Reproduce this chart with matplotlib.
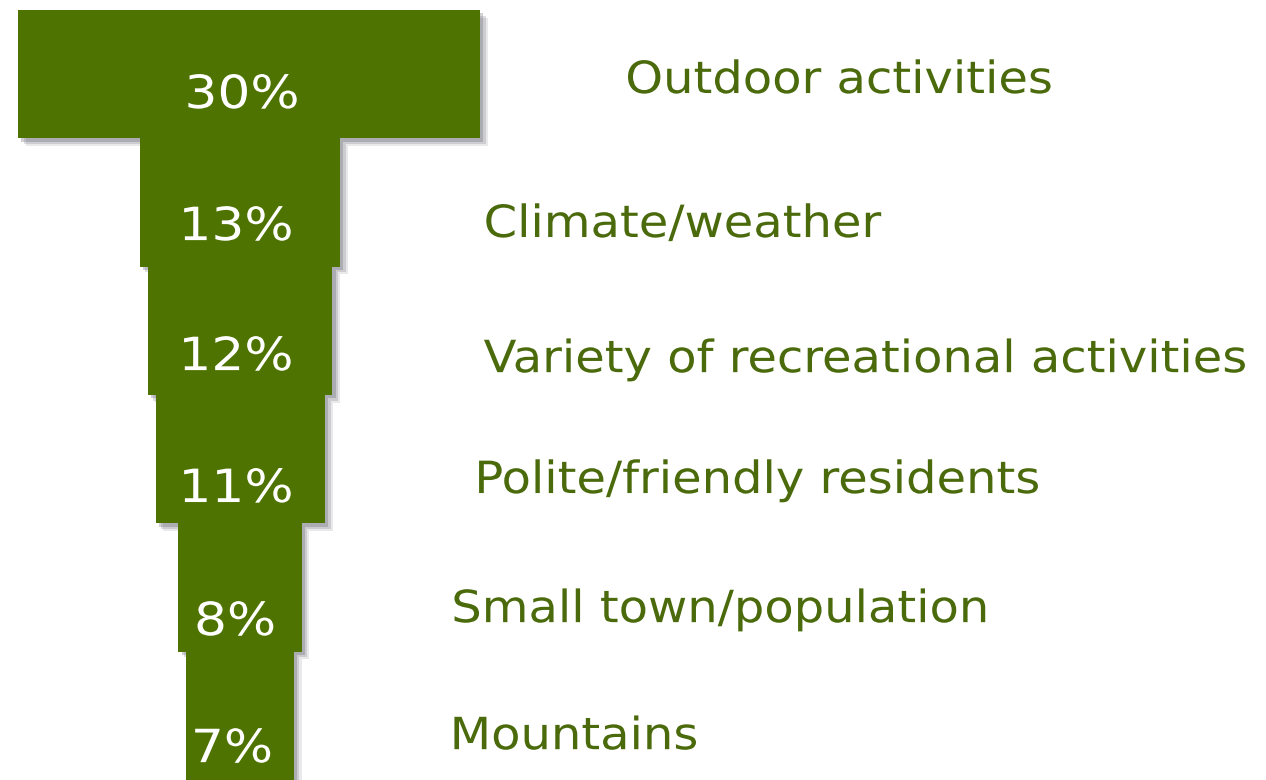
import matplotlib
matplotlib.use("Agg")
import matplotlib.pyplot as plt
from matplotlib.patheffects import AbstractPathEffect
from matplotlib.transforms import Affine2D

# Data
categories = ["Outdoor activities", "Climate/weather", "Variety of recreational activities",
              "Polite/friendly residents", "Small town/population", "Mountains"]
values = [30, 13, 12, 11, 8, 7]
value_labels = ["30%", "13%", "12%", "11%", "8%", "7%"]

bar_color = "#4e7300"
text_color = "#4a6a0c"


class Stretch(AbstractPathEffect):
    """Widen text horizontally about a fixed display x (Verdana-like look)."""

    def __init__(self, x0, factor):
        super().__init__()
        self.x0 = x0
        self.factor = factor

    def draw_path(self, renderer, gc, tpath, affine, rgbFace=None):
        t = affine + Affine2D().translate(-self.x0, 0).scale(self.factor, 1).translate(self.x0, 0)
        renderer.draw_path(gc, tpath, t, rgbFace)


fig = plt.figure(figsize=(12.66, 7.8), dpi=100)
ax = fig.add_axes([0, 0, 1, 1])
ax.set_xlim(0, 82.2)
ax.set_ylim(6.0, -0.078)
ax.axis("off")

# layout tweaks (positions only)
centers = [16.17, 15.58, 15.58, 15.6, 15.58, 15.58]
label_x = [40.6, 31.4, 31.4, 30.8, 29.3, 29.2]
label_base = [0.647, 0.769, 0.822, 0.764, 0.770, 0.760]
pct_x = [15.71, 15.32, 15.32, 15.32, 15.26, 15.06]
pct_base = [0.764, 0.793, 0.806, 0.834, 0.871, 0.861]

# soft shadows behind the bars
for i, v in enumerate(values):
    for dx, a in [(0.5, 0.12), (0.36, 0.18), (0.22, 0.26)]:
        ax.barh(i + dx * 0.12, v, height=1.0, left=centers[i] - v / 2 + dx, align="edge",
                color="#50505f", alpha=a, edgecolor="none", zorder=1)

ax.barh(range(len(values)), values, height=1.0,
        left=[c - v / 2 for c, v in zip(centers, values)], align="edge",
        color=bar_color, edgecolor="none", zorder=2)

for i, v in enumerate(values):
    px = ax.transData.transform((pct_x[i], 0))[0]
    t = ax.text(pct_x[i], i + pct_base[i], value_labels[i], color="white",
                fontsize=33, ha="center", va="baseline", zorder=20)
    t.set_path_effects([Stretch(px, 1.13)])
    lx = ax.transData.transform((label_x[i], 0))[0]
    t = ax.text(label_x[i], i + label_base[i], categories[i], color=text_color,
                fontsize=32, ha="left", va="baseline", zorder=20)
    t.set_path_effects([Stretch(lx, 1.08)])

fig.savefig("out.png", dpi=100, facecolor="white")
